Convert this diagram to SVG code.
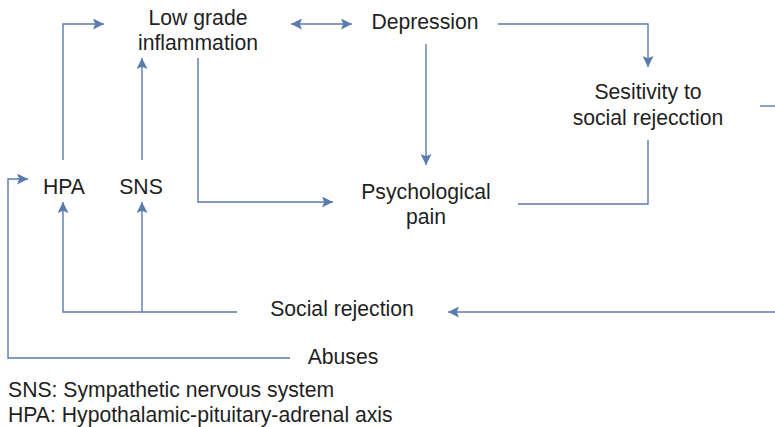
<svg xmlns="http://www.w3.org/2000/svg" width="775" height="427" viewBox="0 0 775 427">
<defs>
<marker id="ah" viewBox="0 0 10 10" refX="10" refY="5" markerWidth="11" markerHeight="11" markerUnits="userSpaceOnUse" orient="auto-start-reverse">
<path d="M0,0 L10,5 L0,10 L2,5 Z" fill="#5b7bb0"/>
</marker>
<style>
.c{fill:none;stroke:#5b7bb0;stroke-width:1.4}
.t{font-family:"Liberation Sans",Arial,sans-serif;font-size:21.2px;fill:#1f1f1f;text-anchor:middle}
.l{font-family:"Liberation Sans",Arial,sans-serif;font-size:21.2px;fill:#1f1f1f}
</style>
</defs>
<g id="connectors">
<path class="c" d="M63,160 V24 H104" marker-end="url(#ah)"/>
<path class="c" d="M142,160 V58" marker-end="url(#ah)"/>
<path class="c" d="M198,58 V202 H333" marker-end="url(#ah)"/>
<path class="c" d="M291,24 H352" marker-start="url(#ah)" marker-end="url(#ah)"/>
<path class="c" d="M498,24 H648 V67" marker-end="url(#ah)"/>
<path class="c" d="M426,44 V165" marker-end="url(#ah)"/>
<path class="c" d="M648,140 V204 H518"/>
<path class="c" d="M760,106 H775"/>
<path class="c" d="M775,312 H448" marker-end="url(#ah)"/>
<path class="c" d="M237,312 H63 V202" marker-end="url(#ah)"/>
<path class="c" d="M142,312 V202" marker-end="url(#ah)"/>
<path class="c" d="M290,358 H8 V179 H28" marker-end="url(#ah)"/>
</g>
<g id="low-grade-inflammation"><text class="t" x="198" y="25">Low grade</text><text class="t" x="198" y="50">inflammation</text></g>
<g id="depression"><text class="t" x="425" y="29">Depression</text></g>
<g id="sensitivity"><text class="t" x="648" y="99">Sesitivity to</text><text class="t" x="648" y="125">social rejecction</text></g>
<g id="hpa"><text class="t" x="64" y="194">HPA</text></g>
<g id="sns"><text class="t" x="141" y="194">SNS</text></g>
<g id="psychological-pain"><text class="t" x="426" y="199">Psychological</text><text class="t" x="426" y="224">pain</text></g>
<g id="social-rejection"><text class="t" x="342" y="316">Social rejection</text></g>
<g id="abuses"><text class="t" x="343" y="364">Abuses</text></g>
<g id="legend"><text class="l" x="8" y="397">SNS: Sympathetic nervous system</text><text class="l" x="8" y="422">HPA: Hypothalamic-pituitary-adrenal axis</text></g>
</svg>
